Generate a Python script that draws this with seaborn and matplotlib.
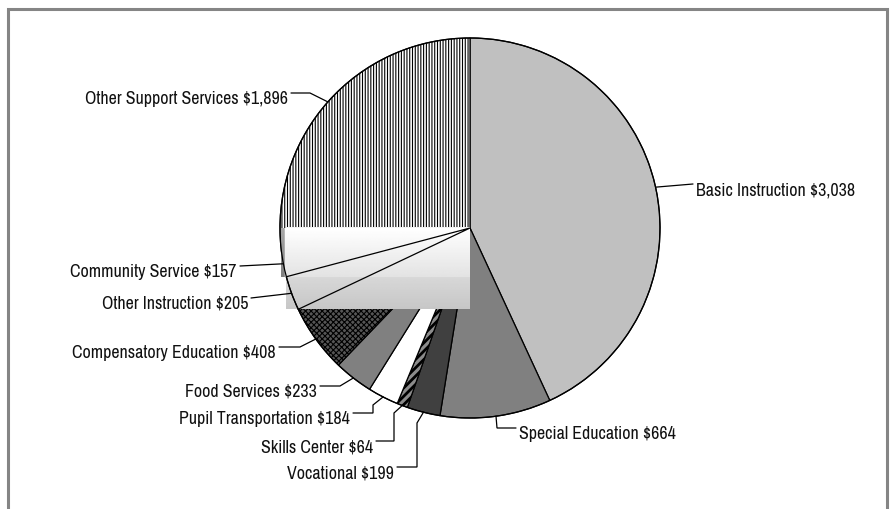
import numpy as np
import matplotlib
matplotlib.use("Agg")
import matplotlib.pyplot as plt
import seaborn as sns
from matplotlib.patches import Circle, Wedge

# ---------------- data ----------------
categories = ["Basic Instruction", "Special Education", "Vocational", "Skills Center",
              "Pupil Transportation", "Food Services", "Compensatory Education",
              "Other Instruction", "Community Service", "Other Support Services"]
values = [3038, 664, 199, 64, 184, 233, 408, 205, 157, 1896]
labels = [f"{c} ${v:,}" for c, v in zip(categories, values)]

# ---------------- style ----------------
sns.set_theme(style="white")
FONT = ["Archivo Narrow", "Roboto Condensed", "DejaVu Sans"]
plt.rcParams["font.family"] = FONT
plt.rcParams["hatch.linewidth"] = 0.8

W, H = 893, 509
fig = plt.figure(figsize=(W / 100, H / 100), dpi=100)
ax = fig.add_axes([0, 0, 1, 1])

CX, CY, R = 470, 228, 190          # pie centre / radius in pixel layout
faces = ["#c0c0c0", "#808080", "#404040", "#8c8c8c", "#ffffff",
         "#808080", "#565656", "#e6e6e6", "#f4f4f4", "#ffffff"]
hatches = [None, None, None, "////", None, None, "xxxxxx", None, None, "||||||"]

wedges, _ = ax.pie(values, startangle=90, counterclock=False,
                   center=(CX, H - CY), radius=R, colors=faces,
                   wedgeprops=dict(edgecolor="black", linewidth=0.9))
for i, (w, h) in enumerate(zip(wedges, hatches)):
    if h:
        w.set_hatch(h)
        if i == 3 and hasattr(w, "set_hatch_linewidth"):
            w.set_hatch_linewidth(2.0)

# gradient fills for "Other Instruction" and "Community Service" (bounding-box style)
def grad_rect(wedge, top, bottom, z, dark_left=0):
    ext = wedge.get_path().get_extents()
    n = 64
    col = np.linspace(top, bottom, n)[:, None]
    img = np.repeat(col, 200, axis=1)
    if dark_left:
        img[:, :dark_left] = np.linspace(0.66, 0.5, n)[:, None]
    ax.imshow(img, extent=[ext.x0, ext.x1, ext.y0, ext.y1], cmap="gray", vmin=0, vmax=1,
              aspect="auto", zorder=z, interpolation="bilinear", origin="upper")

grad_rect(wedges[7], 0.95, 0.78, 2.1)
grad_rect(wedges[8], 1.0, 0.89, 2.2, dark_left=4)

# redraw outlines on top of the gradient rectangles
w7 = wedges[7]
ax.add_patch(Wedge(w7.center, w7.r, w7.theta1, w7.theta2, fill=False,
                   edgecolor="black", linewidth=0.9, zorder=2.5))
ax.add_patch(Circle((CX, H - CY), R, fill=False, edgecolor="black",
                    linewidth=0.9, zorder=2.5))

# ---------------- labels with leader lines (pixel layout) ----------------
layout = [
    ([(693, 184)], 696, "left"),
    ([(497, 428), (516, 428)], 519, "left"),
    ([(417, 423), (417, 467), (397, 467)], 394, "right"),
    ([(394, 413), (394, 441), (376, 441)], 373, "right"),
    ([(373, 405), (373, 413), (353, 413)], 350, "right"),
    ([(340, 386), (320, 386)], 317, "right"),
    ([(300, 347), (279, 347)], 276, "right"),
    ([(251, 298)], 248, "right"),
    ([(240, 266)], 237, "right"),
    ([(310, 93), (291, 93)], 288, "right"),
]

# choose a font size so that the first label is ~159 px wide, like the reference
ax.set_xlim(0, W); ax.set_ylim(0, H)
probe = ax.text(0, 0, labels[0], fontsize=13)
renderer = fig.canvas.get_renderer()
width = probe.get_window_extent(renderer).width
probe.remove()
fs = float(np.clip(13 * 159 / width, 10, 15))

for w, lab, (pts, tx, ha) in zip(wedges, labels, layout):
    mid = np.deg2rad((w.theta1 + w.theta2) / 2)
    ax_, ay_ = CX + R * np.cos(mid), (H - CY) + R * np.sin(mid)
    xs = [ax_] + [p[0] for p in pts]
    ys = [ay_] + [H - p[1] for p in pts]
    ax.plot(xs, ys, color="black", lw=0.9, zorder=3, solid_joinstyle="miter")
    ly = pts[-1][1]
    ax.text(tx, H - (ly + 11), lab, ha=ha, va="baseline", fontsize=fs,
            color="#111111", zorder=4)

# outer frame (open at the bottom)
ax.plot([7.5, 7.5, 886.5, 886.5], [-5, H - 8.5, H - 8.5, -5], color="#858585",
        lw=2.2, zorder=5, solid_joinstyle="miter", clip_on=False)

ax.set_xlim(0, W)
ax.set_ylim(0, H)
ax.set_aspect("auto")
ax.axis("off")
fig.savefig("out.png", dpi=100)
